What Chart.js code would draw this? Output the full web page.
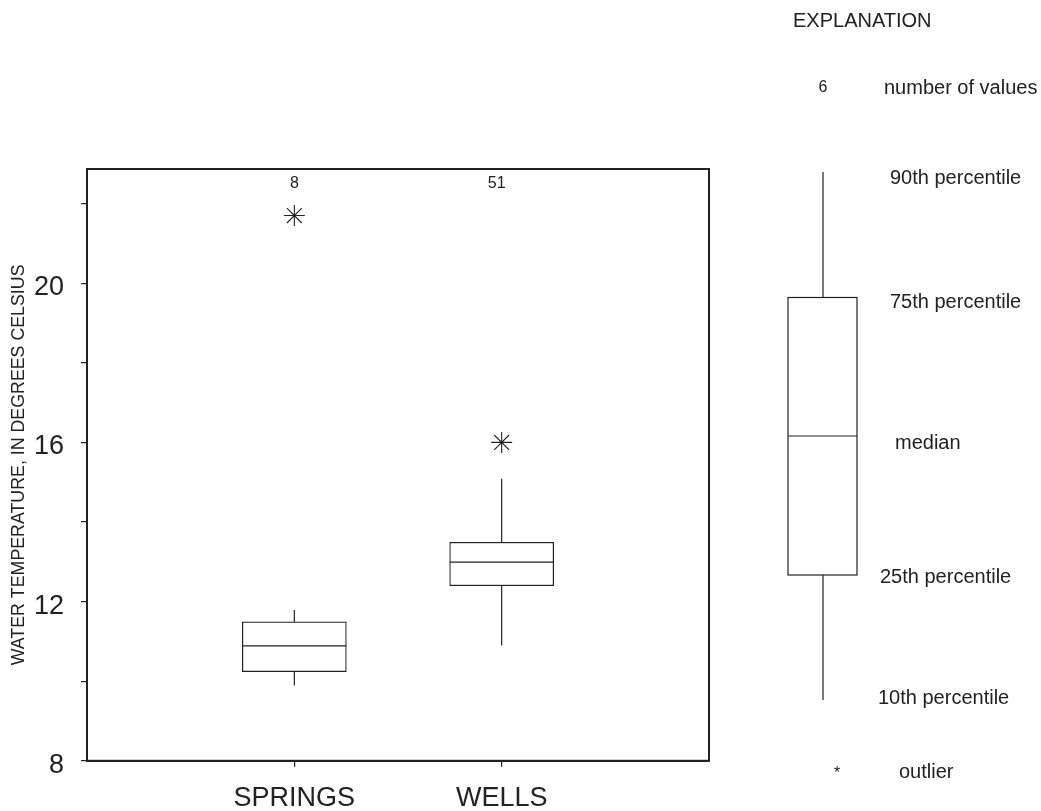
<!DOCTYPE html>
<html><head><meta charset="utf-8">
<script src="https://cdn.jsdelivr.net/npm/chart.js@4.4.0/dist/chart.umd.min.js"></script>
<style>html,body{margin:0;padding:0;background:#fff;overflow:hidden}canvas{display:block}</style>
</head><body><canvas id="c" width="1041" height="814" style="width:1041px;height:814px"></canvas>
<script>
// ---- data ----
const categories = ['SPRINGS', 'WELLS'];
const counts = [8, 51];
const p10 = [9.89, 10.90];
const q1 = [10.24, 12.40];
const median = [10.89, 12.99];
const q3 = [11.49, 13.49];
const p90 = [11.79, 15.09];
const outliers = [[21.70], [16.0]];
const yTicks = [8, 10, 12, 14, 16, 18, 20, 22];
const yLabeled = [8, 12, 16, 20];
const yMin = 8, yMax = 22.87;
const yTitle = 'WATER TEMPERATURE, IN DEGREES CELSIUS';
const explanationTitle = 'EXPLANATION';
const explanationCount = '6';
const explanationLabels = ['number of values', '90th percentile', '75th percentile', 'median', '25th percentile', '10th percentile', 'outlier'];

const INK = '#222';
const FONT = '"Liberation Sans", Arial, Helvetica, sans-serif';

const boxData = categories.map((c, i) => ({x: i + 1, y: [q1[i], q3[i]]}));
const medianData = categories.map((c, i) => ({x: i + 1, y: median[i]}));
const whiskerData = [];
categories.forEach((c, i) => {
  whiskerData.push({x: i + 1, y: p10[i]}, {x: i + 1, y: q1[i]}, {x: i + 1, y: null});
  whiskerData.push({x: i + 1, y: q3[i]}, {x: i + 1, y: p90[i]}, {x: i + 1, y: null});
});
const outlierData = [];
outliers.forEach((arr, i) => arr.forEach(v => outlierData.push({x: i + 1, y: v})));

const extras = {
  id: 'extras',
  beforeDraw(chart) {
    const ctx = chart.ctx;
    ctx.save();
    ctx.fillStyle = '#fff';
    ctx.fillRect(0, 0, chart.width, chart.height);
    ctx.restore();
  },
  afterDraw(chart) {
    const ctx = chart.ctx;
    const a = chart.chartArea;
    const xs = chart.scales.x;
    ctx.save();
    // plot frame
    ctx.strokeStyle = INK;
    ctx.lineWidth = 2;
    ctx.strokeRect(a.left, a.top, a.right - a.left, a.bottom - a.top);
    // number of values above each box
    ctx.fillStyle = INK;
    ctx.font = '16px ' + FONT;
    ctx.textAlign = 'center';
    ctx.textBaseline = 'middle';
    counts.forEach((n, i) => ctx.fillText(String(n), xs.getPixelForValue(i + 1) - (i === 1 ? 5 : 0), a.top + 15));

    // explanation (schematic, not data)
    ctx.font = '20px ' + FONT;
    ctx.textAlign = 'left';
    ctx.fillText(explanationTitle, 793, 21);
    ctx.textAlign = 'center';
    ctx.font = '16px ' + FONT;
    ctx.fillText(explanationCount, 823, 88);
    const cx = 823, bl = 788, br = 857;
    const yW90 = 172, yQ3 = 297.5, yMed = 436, yQ1 = 575, yW10 = 700;
    ctx.lineWidth = 1.2;
    ctx.beginPath();
    ctx.moveTo(cx, yW90); ctx.lineTo(cx, yQ3);
    ctx.moveTo(cx, yQ1); ctx.lineTo(cx, yW10);
    ctx.moveTo(bl, yMed); ctx.lineTo(br, yMed);
    ctx.stroke();
    ctx.strokeRect(bl, yQ3, br - bl, yQ1 - yQ3);
    ctx.fillText('*', 837, 774);
    ctx.font = '20px ' + FONT;
    ctx.textAlign = 'left';
    const pos = [[884, 88], [890, 178], [890, 302], [895, 443], [880, 577], [878, 698], [899, 772]];
    explanationLabels.forEach((t, i) => ctx.fillText(t, pos[i][0], pos[i][1]));
    ctx.restore();
  }
};

new Chart(document.getElementById('c'), {
  type: 'bar',
  data: {
    datasets: [
      {type: 'line', data: whiskerData, borderColor: INK, borderWidth: 1.2, pointRadius: 0, spanGaps: false, fill: false, order: 3},
      {type: 'bar', data: boxData, backgroundColor: '#fff', borderColor: INK, borderWidth: 1.2, borderSkipped: false, barThickness: 104, order: 2},
      {type: 'scatter', data: medianData, pointStyle: 'line', pointRadius: 52, borderColor: INK, borderWidth: 1.2, order: 1},
      {type: 'scatter', data: outlierData, pointStyle: 'star', pointRadius: 10.5, borderColor: INK, backgroundColor: INK, borderWidth: 1.1, order: 0}
    ]
  },
  options: {
    responsive: false,
    animation: false,
    events: [],
    layout: {padding: {top: 169, right: 332, bottom: 0, left: 0}},
    plugins: {legend: {display: false}, tooltip: {enabled: false}},
    scales: {
      x: {
        type: 'linear', min: 0, max: 3, offset: false,
        afterBuildTicks: s => { s.ticks = categories.map((c, i) => ({value: i + 1})); },
        afterFit: s => { s.height = 50; },
        ticks: {callback: v => categories[v - 1] || '', font: {family: FONT, size: 27, lineHeight: 0.9}, color: INK, padding: 20, maxRotation: 0, autoSkip: false},
        grid: {display: true, offset: false, drawOnChartArea: false, drawTicks: true, tickLength: 6, color: INK, lineWidth: 1.2},
        border: {display: true, color: INK, width: 2}
      },
      y: {
        type: 'linear', min: yMin, max: yMax,
        afterBuildTicks: s => { s.ticks = yTicks.map(v => ({value: v})); },
        afterFit: s => { s.width = 87; },
        ticks: {callback: v => yLabeled.includes(v) ? String(v) : '', font: {family: FONT, size: 27}, color: INK, padding: 17, autoSkip: false, labelOffset: 4.5},
        grid: {display: true, offset: false, drawOnChartArea: false, drawTicks: true, tickLength: 6, color: INK, lineWidth: 1.2},
        border: {display: true, color: INK, width: 2},
        title: {display: true, text: yTitle, color: INK, font: {family: FONT, size: 17.8}, padding: {top: 8, bottom: 0}}
      }
    }
  },
  plugins: [extras]
});
</script>
</body></html>
